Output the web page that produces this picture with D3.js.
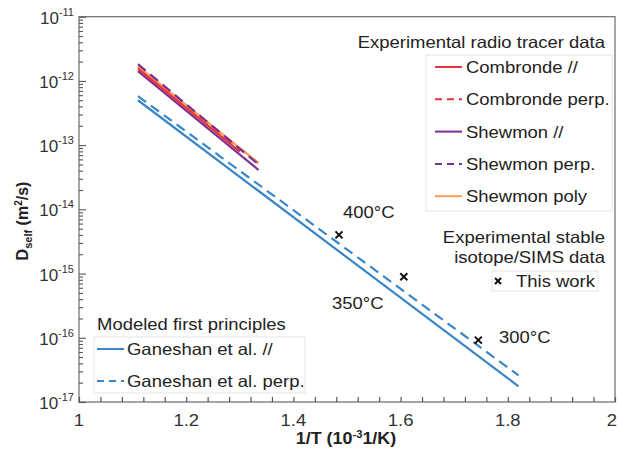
<!DOCTYPE html>
<html><head><meta charset="utf-8">
<script src="https://cdn.jsdelivr.net/npm/d3@7"></script>
<style>body{margin:0;background:#fff;} text{font-family:"Liberation Sans",Arial,sans-serif;}</style>
</head><body><svg id="c" width="618" height="451"></svg>
<script>
// Data
const seriesNames = ["Combronde perp.","Shewmon //","Shewmon poly","Combronde //","Shewmon perp.","Ganeshan et al. //","Ganeshan et al. perp."];
const seriesX = [[1.11,1.335],[1.11,1.335],[1.11,1.335],[1.11,1.30],[1.11,1.335],[1.11,1.82],[1.11,1.82]];
const seriesY = [[1.65e-12,5.2e-14],[1.42e-12,4.1e-14],[1.68e-12,5.3e-14],[1.55e-12,7.9e-14],[1.82e-12,5.0e-14],[5.0e-13,1.75e-17],[5.8e-13,2.6e-17]];
const seriesColor = ["#e8323c","#7b2f90","#f5a05a","#e8323c","#7b2f90","#3a86c8","#3a86c8"];
const seriesDash = [true,false,false,false,true,false,true];
const pointsX = [1.485,1.606,1.745];
const pointsY = [4.0e-15,8.9e-16,9.2e-17];
const tempLabels = ["400°C","350°C","300°C"];
const xTicks = [1,1.2,1.4,1.6,1.8,2];
const yExp = [-11,-12,-13,-14,-15,-16,-17];

const svg = d3.select("#c");
const L=79,R=615,T=16.7,B=402;
const x = d3.scaleLinear().domain([1,2]).range([L,R]);
const y = d3.scaleLog().domain([1e-17,1e-11]).range([B,T]);
const axisCol="#555";
const SX=1.12;
function txt(xx,yy,s,anchor,size,extra){
  const t = svg.append("text").attr("transform",`translate(${xx},${yy}) scale(${SX},1)`)
    .attr("text-anchor",anchor||"start").attr("font-size",size||16.5).attr("fill","#222");
  if(extra) extra(t); else t.text(s);
  return t;
}

// frame
svg.append("rect").attr("x",L).attr("y",T).attr("width",R-L).attr("height",B-T)
  .attr("fill","none").attr("stroke","#777").attr("stroke-width",1.3);

// x ticks
const xMinor = d3.range(0,26).map(i=>1+i*0.04);
const gx = svg.append("g").attr("transform",`translate(0,${B})`)
  .call(d3.axisBottom(x).tickValues(xMinor).tickSize(-5).tickFormat(""));
gx.select(".domain").remove();
gx.selectAll("line").attr("stroke",axisCol).attr("stroke-width",1.2);
xTicks.forEach(v=>{
  const last = v===xTicks[xTicks.length-1];
  txt(last? 617 : x(v),B+24,d3.format("~g")(v),last?"end":"middle",16.5).attr("fill","#333");
});
// y ticks
const yMinor=[];
for(let e=-17;e<-11;e++){for(let k=1;k<10;k++) yMinor.push(k*Math.pow(10,e));}
yMinor.push(1e-11);
const gy = svg.append("g").attr("transform",`translate(${L},0)`)
  .call(d3.axisLeft(y).tickValues(yMinor).tickSize(-4).tickFormat(""));
gy.select(".domain").remove();
gy.selectAll("line").attr("stroke",axisCol).attr("stroke-width",1.1);
gy.selectAll(".tick").filter(d=>Math.abs(Math.log10(d)-Math.round(Math.log10(d)))<1e-9)
  .select("line").attr("x2",7);
yExp.forEach(e=>{
  const t = svg.append("text").attr("x",L-5).attr("y",y(Math.pow(10,e))+7).attr("text-anchor","end")
    .attr("font-size",17).attr("fill","#333");
  t.append("tspan").text("10");
  t.append("tspan").attr("dy",-8).attr("font-size",11).text(String(e));
});

// axis labels
txt(346,444,null,"middle",16,t=>t.attr("font-weight","bold")
  .html('1/T (10<tspan dy="-6" font-size="10">-3</tspan><tspan dy="6">1/K)</tspan>'));
svg.append("text").attr("transform","translate(28,221) rotate(-90)").attr("text-anchor","middle")
  .attr("font-size",16).attr("font-weight","bold").attr("fill","#222")
  .html('D<tspan dy="4" font-size="11">self</tspan><tspan dy="-4"> (m</tspan><tspan dy="-6" font-size="10">2</tspan><tspan dy="6">/s)</tspan>');

// lines
const line = d3.line().x(d=>x(d[0])).y(d=>y(d[1]));
seriesNames.forEach((n,i)=>{
  const pts = seriesX[i].map((v,j)=>[v,seriesY[i][j]]);
  svg.append("path").attr("d",line(pts)).attr("fill","none").attr("stroke",seriesColor[i])
    .attr("stroke-width",2.2).attr("stroke-dasharray",seriesDash[i]?"10,6":null);
});

// points
pointsX.forEach((v,i)=>{
  const cx=x(v), cy=y(pointsY[i]), s=3.5;
  svg.append("path").attr("d",`M${cx-s},${cy-s}L${cx+s},${cy+s}M${cx-s},${cy+s}L${cx+s},${cy-s}`)
    .attr("stroke","#111").attr("stroke-width",2);
});
// temperature labels
const tlPos=[[343,218],[332,309],[499,343]];
tempLabels.forEach((t,i)=>{ txt(tlPos[i][0],tlPos[i][1],t,"start",16.5); });

// Legend 1
txt(605,48,"Experimental radio tracer data","end",16.5);
svg.append("rect").attr("x",426).attr("y",55).attr("width",186).attr("height",156)
  .attr("fill","#fff").attr("stroke","#e4e4e4");
const leg1 = [3,0,1,4,2];
leg1.forEach((si,k)=>{
  const yy = 67+k*32.3;
  svg.append("line").attr("x1",435).attr("x2",462).attr("y1",yy).attr("y2",yy)
    .attr("stroke",seriesColor[si]).attr("stroke-width",2).attr("stroke-dasharray",seriesDash[si]?"7,5":null);
  txt(466,yy+6,seriesNames[si],"start",16.5);
});

// Legend 2
txt(605,243,"Experimental stable","end",16.5);
txt(605,263,"isotope/SIMS data","end",16.5);
svg.append("rect").attr("x",492).attr("y",271).attr("width",106).attr("height",20)
  .attr("fill","#fff").attr("stroke","#e4e4e4");
{
  const cx=498, cy=281, s=3;
  svg.append("path").attr("d",`M${cx-s},${cy-s}L${cx+s},${cy+s}M${cx-s},${cy+s}L${cx+s},${cy-s}`)
    .attr("stroke","#111").attr("stroke-width",2);
  txt(516,287,"This work","start",16.5);
}

// Legend 3
txt(97,330,"Modeled first principles","start",16.5);
svg.append("rect").attr("x",94).attr("y",337).attr("width",211).attr("height",56)
  .attr("fill","#fff").attr("stroke","#e4e4e4");
[5,6].forEach((si,k)=>{
  const yy = 349+k*32;
  svg.append("line").attr("x1",97).attr("x2",124).attr("y1",yy).attr("y2",yy)
    .attr("stroke",seriesColor[si]).attr("stroke-width",2).attr("stroke-dasharray",seriesDash[si]?"7,5":null);
  txt(127,yy+6,seriesNames[si],"start",16.5);
});
</script></body></html>
